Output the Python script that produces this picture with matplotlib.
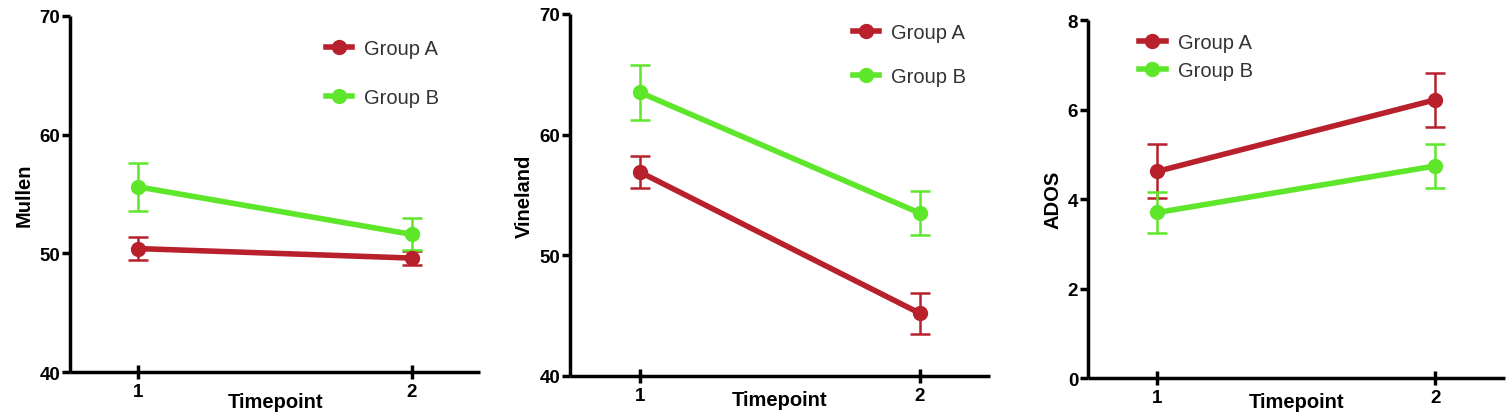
import matplotlib.pyplot as plt
from matplotlib.lines import Line2D

# DATA -----------------------------------------------------------------------------------------------------------------
timepoints = [1, 2]
groups = ['Group A', 'Group B']

mullen_a = [50.4, 49.6]
mullen_a_err = [1.0, 0.6]
mullen_b = [55.6, 51.6]
mullen_b_err = [2.0, 1.35]

vineland_a = [56.9, 45.2]
vineland_a_err = [1.3, 1.7]
vineland_b = [63.5, 53.5]
vineland_b_err = [2.3, 1.8]

ados_a = [4.62, 6.22]
ados_a_err = [0.6, 0.6]
ados_b = [3.70, 4.74]
ados_b_err = [0.46, 0.49]

red = '#B8202C'
green = '#5EE62B'

plt.rcParams['font.family'] = ['Liberation Sans', 'DejaVu Sans']

fig = plt.figure(figsize=(15.11, 4.14), dpi=100)

panels = [
    # (axes rect, ylabel, ylim, yticks, A, Aerr, B, Berr, legend anchor in axes frac, legend spacing, xlabel pad)
    ([0.0463, 0.099, 0.2714, 0.860], 'Mullen', (40, 70), [40, 50, 60, 70],
     mullen_a, mullen_a_err, mullen_b, mullen_b_err, (0.58, 0.985), 1.45, -6),
    ([0.3772, 0.0894, 0.2778, 0.8744], 'Vineland', (40, 70), [40, 50, 60, 70],
     vineland_a, vineland_a_err, vineland_b, vineland_b_err, (0.63, 1.025), 1.25, -10),
    ([0.7200, 0.0845, 0.2760, 0.8645], 'ADOS', (0, 8), [0, 2, 4, 6, 8],
     ados_a, ados_a_err, ados_b, ados_b_err, (0.08, 1.015), 0.45, -10),
]

for rect, ylab, ylim, yticks, a, a_err, b, b_err, leg_xy, spacing, xpad in panels:
    ax = fig.add_axes(rect)
    ax.errorbar(timepoints, a, yerr=a_err, color=red, lw=4, marker='o', ms=10,
                capsize=7, elinewidth=1.8, capthick=1.8, zorder=3)
    ax.errorbar(timepoints, b, yerr=b_err, color=green, lw=4, marker='o', ms=10,
                capsize=7, elinewidth=1.8, capthick=1.8, zorder=3)

    ax.set_xlim(0.75, 2.25)
    ax.set_ylim(*ylim)
    ax.set_xticks(timepoints)
    ax.set_yticks(yticks)
    for s in ['top', 'right']:
        ax.spines[s].set_visible(False)
    for s in ['left', 'bottom']:
        ax.spines[s].set_linewidth(2.5)
        ax.spines[s].set_capstyle('butt')
    ax.tick_params(axis='y', length=6, width=2.5, pad=1, labelsize=13.5)
    ax.tick_params(axis='x', direction='inout', length=10, width=2.5, pad=3, labelsize=13.5)
    for lbl in ax.get_xticklabels() + ax.get_yticklabels():
        lbl.set_fontweight('bold')

    ax.set_ylabel(ylab, fontsize=14.5, fontweight='bold', labelpad=4)
    ax.set_xlabel('Timepoint', fontsize=14.5, fontweight='bold', labelpad=xpad)

    handles = [Line2D([0], [0], color=red, lw=4, marker='o', ms=10),
               Line2D([0], [0], color=green, lw=4, marker='o', ms=10)]
    leg = ax.legend(handles, groups, loc='upper left', bbox_to_anchor=leg_xy, frameon=False,
                    fontsize=14.5, handlelength=1.3, handletextpad=0.6, labelspacing=spacing)
    for t in leg.get_texts():
        t.set_color('#333333')

plt.savefig('out.png', dpi=100)
